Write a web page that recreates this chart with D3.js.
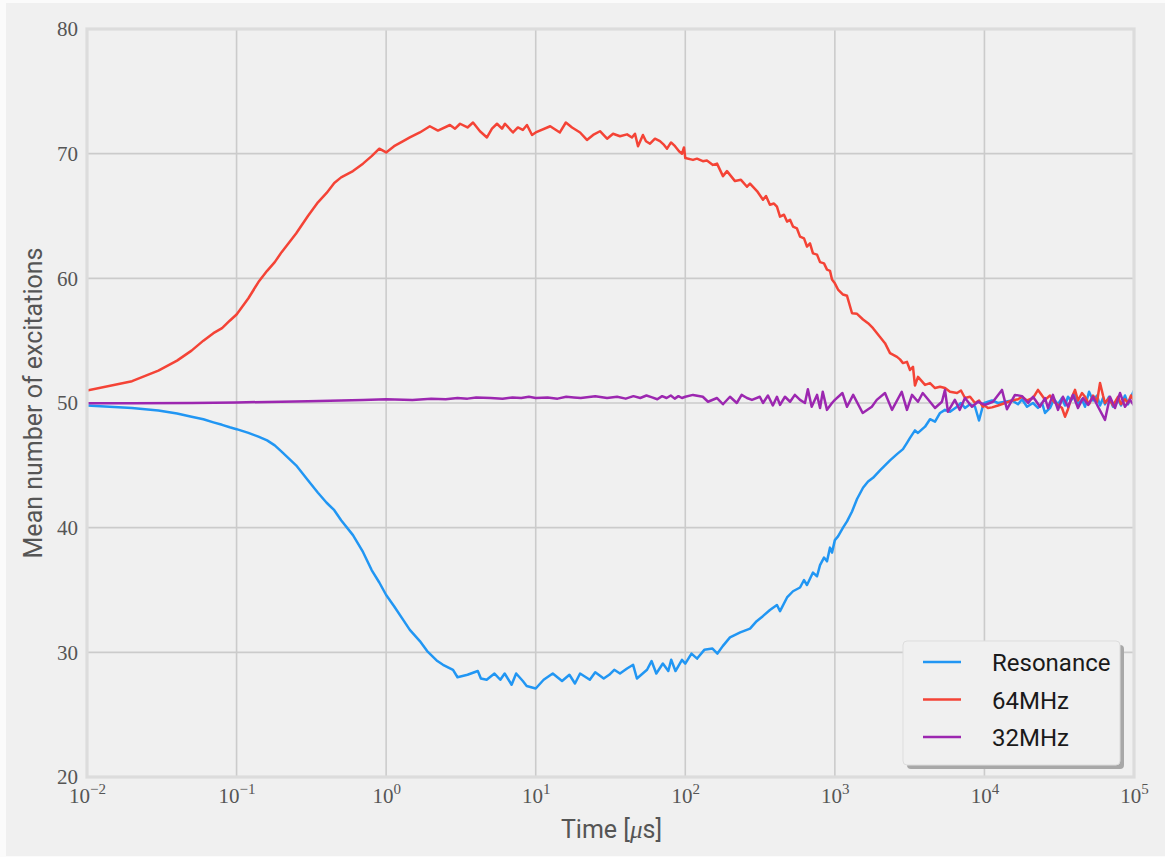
<!DOCTYPE html>
<html>
<head>
<meta charset="utf-8">
<script src="https://cdn.jsdelivr.net/npm/d3@7"></script>
<style>
  html, body { margin: 0; padding: 0; background: #fbfbfb; }
  svg { display: block; }
</style>
</head>
<body>
<svg id="chart" width="1165" height="857"></svg>
<script>
// ---- data: [time in µs, mean number of excitations] ----
const resonance = [
  [0.01,49.8],[0.02,49.6],[0.03,49.4],[0.04,49.15],[0.05,48.9],[0.06,48.7],[0.07,48.45],[0.08,48.25],[0.09,48.05],
  [0.1,47.9],[0.12,47.6],[0.14,47.3],[0.16,47.0],[0.18,46.6],[0.2,46.1],[0.25,45.0],[0.3,43.8],[0.35,42.8],
  [0.4,42.0],[0.45,41.4],[0.5,40.6],[0.6,39.4],[0.7,38.05],[0.8,36.6],[0.9,35.6],
  [1.0,34.6],[1.13,33.7],[1.3,32.6],[1.44,31.8],[1.68,30.9],[1.88,30.1],[2.2,29.3],[2.4,29.0],[2.8,28.6],
  [3.0,28.0],[3.5,28.2],[4.1,28.5],[4.3,27.9],[4.7,27.8],[5.3,28.3],[5.8,27.8],[6.2,28.3],[6.9,27.4],
  [7.4,28.3],[8.2,27.7],[8.7,27.3],[10,27.1],[11.3,27.8],[13,28.3],[15,27.7],[16.8,28.2],[18.3,27.5],
  [19.8,28.3],[23,27.8],[25,28.4],[28.5,27.9],[31,28.2],[33.5,28.6],[36.6,28.3],[40.8,28.7],[44.8,29.0],
  [47.5,27.9],[55.5,28.6],[59.5,29.3],[64,28.3],[70.8,29.1],[77,28.5],[80.5,29.4],[86,28.5],[95,29.4],
  [100,29.1],[110,29.9],[120,29.5],[134,30.2],[152,30.3],[164,29.9],[178,30.5],[199,31.2],[233,31.6],
  [271,31.9],[300,32.5],[330,32.9],[368,33.4],[410,33.8],[430,33.3],[479,34.4],[525,34.9],[585,35.2],
  [622,35.8],[651,35.4],[714,36.4],[760,36.1],[796,37.0],[846,37.6],[886,37.3],[928,38.4],[957,38.0],
  [1000,39.0],[1050,39.3],[1134,40.0],[1206,40.5],[1303,41.3],[1407,42.3],[1543,43.2],[1667,43.7],
  [1800,44.0],[2004,44.6],[2164,45.0],[2338,45.4],[2603,45.9],[2855,46.3],[3035,46.8],[3180,47.2],
  [3432,47.8],[3596,47.6],[4008,48.1],[4326,48.7],[4674,48.5],[5050,49.2],[5448,49.45],[5888,49.3],
  [6560,49.7],[6970,50.0],[7413,49.6],[8012,49.9],[8650,49.7],[9200,48.6],[9780,49.8],[10000,50.0],
  [10570,50.1],[11240,50.2],[12330,50.0],[13740,50.1],[15290,50.2],[16780,49.9],[17840,50.3],[19260,49.7],
  [21130,50.0],[22810,49.6],[24270,50.0],[25420,49.2],[27460,49.6],[29190,50.3],[31040,49.9],[33010,50.4],
  [34570,49.8],[36200,50.5],[37910,50.2],[40320,50.65],[42220,49.9],[44910,50.3],[47060,49.7],[50050,50.9],
  [53220,50.2],[56600,50.6],[59280,49.8],[62080,50.4],[64010,49.9],[68070,50.5],[72390,49.7],[78180,50.3],
  [81850,49.8],[87040,50.6],[91200,49.9],[95500,50.5],[100000,51.0]
];

const mhz64 = [
  [0.01,51.0],[0.02,51.75],[0.03,52.6],[0.04,53.4],[0.05,54.2],[0.06,55.0],[0.07,55.6],[0.08,56.0],[0.09,56.6],
  [0.1,57.1],[0.12,58.4],[0.14,59.7],[0.16,60.6],[0.18,61.3],[0.2,62.1],[0.25,63.6],[0.3,65.0],[0.35,66.1],
  [0.4,66.85],[0.45,67.65],[0.5,68.1],[0.6,68.6],[0.7,69.2],[0.8,69.8],[0.9,70.4],
  [1.0,70.1],[1.13,70.6],[1.3,71.0],[1.44,71.3],[1.68,71.7],[1.96,72.2],[2.22,71.85],[2.67,72.3],[2.89,72.0],
  [3.12,72.4],[3.5,72.1],[3.81,72.5],[4.24,71.8],[4.72,71.3],[5.1,72.0],[5.51,72.4],[5.95,72.0],[6.23,72.4],
  [7.05,71.7],[7.6,72.1],[8.2,71.9],[8.74,72.3],[9.45,71.5],[10,71.7],
  [12.5,72.2],[14.5,71.7],[15.9,72.5],[17.5,72.1],[19.8,71.7],[22.0,71.1],[24.2,71.5],[26.9,71.8],[30.0,71.2],
  [32.9,71.6],[36.6,71.4],[40.8,71.55],[44.0,71.3],[46.1,71.6],[48.3,70.6],[52.1,71.5],[54.6,71.0],[58.1,70.8],
  [62.7,71.2],[67.7,71.0],[72.1,70.7],[75.5,70.4],[80.3,70.9],[85.4,70.6],[90.8,70.2],[95.1,70.0],[98,70.5],
  [100,69.65],[112.6,69.5],[119.7,69.6],[131,69.4],[139.5,69.45],[153,69.1],[163,69.2],[178.6,68.2],[190,68.6],
  [199,68.3],[215,67.8],[235.6,67.9],[258.6,67.35],[270.8,67.6],[301.6,67.0],[330.9,66.3],[346.5,66.6],[368,65.9],
  [391.6,66.0],[410,65.75],[429.8,64.95],[457,65.1],[478.9,64.55],[501.6,64.7],[525,64.15],[558,64.0],[585,63.35],
  [622,63.2],[651,62.55],[682,62.8],[714,62.0],[760,61.9],[796,61.3],[846,61.2],[886,60.7],[928,60.6],[957,59.9],
  [1000,59.6],[1050,59.1],[1134,58.7],[1206,58.6],[1303,57.2],[1407,57.15],[1543,56.7],[1667,56.4],[1800,56.0],
  [2004,55.3],[2164,54.8],[2338,54.0],[2603,53.7],[2726,53.5],[2855,53.2],[3035,53.3],[3180,52.65],[3330,52.9],
  [3432,51.4],[3596,52.1],[4008,51.45],[4326,51.6],[4674,51.2],[5050,51.3],[5448,51.2],[5888,50.9],[6560,50.8],
  [6970,51.0],[7413,50.4],[8012,50.5],[8650,50.0],[9200,50.2],[9780,49.7],[10000,49.8],
  [10570,49.6],[11240,49.65],[12330,49.8],[13740,50.0],[15290,50.2],[16780,50.3],[17840,50.5],[19260,50.2],
  [21130,50.4],[22810,51.05],[24270,50.6],[25420,50.25],[27460,50.6],[29190,50.1],[31040,49.85],[33010,49.6],
  [34570,48.9],[36200,49.5],[37910,50.3],[40320,51.05],[42220,50.2],[44910,50.8],[47060,50.5],[50050,49.9],
  [53220,50.6],[56600,50.1],[59280,51.6],[62080,50.6],[64010,50.0],[68070,50.4],[72390,49.8],[78180,50.5],
  [81850,49.9],[87040,50.3],[91200,50.0],[95500,50.6],[100000,50.2]
];

const mhz32 = [
  [0.01,49.97],[0.02,49.98],[0.05,50.0],[0.1,50.05],[0.2,50.1],[0.3,50.15],[0.5,50.2],[0.7,50.25],
  [1,50.3],[1.5,50.25],[2,50.35],[2.5,50.3],[3,50.4],[3.5,50.35],[4,50.45],[5,50.4],[6,50.35],[7,50.45],
  [8,50.4],[9,50.5],[10,50.4],[12,50.45],[14,50.35],[16,50.5],[18,50.45],[20,50.4],[25,50.55],[30,50.4],
  [35,50.5],[40,50.35],[45,50.55],[50,50.4],[55,50.6],[60,50.45],[65,50.3],[70,50.55],[75,50.4],[80,50.6],
  [85,50.35],[90,50.55],[95,50.4],[100,50.5],
  [112.6,50.65],[131,50.5],[141.9,50.1],[163,50.4],[178.6,49.9],[199,50.5],[221,50.0],[238,50.65],[258.6,50.4],
  [279,50.25],[315,50.5],[331,50.0],[357,50.6],[385,49.8],[410,50.5],[430,49.85],[464,50.5],[502,50.1],
  [540,50.65],[585,50.25],[631,50.0],[660,51.1],[700,49.7],[760,50.65],[796,49.6],[830,50.9],[886,49.45],
  [957,50.0],[1000,50.25],[1124,50.8],[1206,49.7],[1326,50.65],[1535,49.2],[1767,49.7],[1906,50.25],
  [2164,50.8],[2410,49.45],[2800,50.9],[3035,49.45],[3280,50.65],[3596,50.1],[3868,50.8],[4326,50.1],
  [4674,49.6],[5200,50.1],[5448,51.05],[5700,49.3],[6340,50.25],[6840,49.45],[7413,50.4],[8250,49.7],
  [9060,50.1],[10100,49.85],[11400,50.1],[13100,51.05],[14150,49.5],[16000,50.65],[17840,50.55],[19600,50.0],
  [21130,50.5],[23520,49.7],[25420,50.4],[26600,49.6],[28700,50.65],[31040,49.45],[33500,50.5],[36200,49.7],
  [39100,50.65],[42220,49.6],[45600,50.4],[49300,49.85],[53220,50.5],[57500,49.7],[64010,48.65],[69100,50.5],
  [74600,49.6],[80600,50.8],[87040,49.7],[94000,50.25],[100000,49.8]
];

const seriesNames = ["Resonance", "64MHz", "32MHz"];
const seriesColors = ["#2196f3", "#f44336", "#9c27b0"];
const yTicks = [20, 30, 40, 50, 60, 70, 80];
const xTickExponents = [-2, -1, 0, 1, 2, 3, 4, 5];

// ---- layout ----
const svg = d3.select("#chart");
const W = 1165, H = 857;
const plot = { left: 87, right: 1134, top: 29, bottom: 777 };
const sans = "Roboto, 'Noto Sans', sans-serif";
const serif = "'Liberation Serif', serif";

svg.append("rect").attr("x", 6).attr("y", 3).attr("width", W - 6).attr("height", H - 4)
  .attr("fill", "#f0f0f0");

const x = d3.scaleLog().domain([1e-2, 1e5]).range([plot.left, plot.right]);
const y = d3.scaleLinear().domain([20, 80]).range([plot.bottom, plot.top]);

// grid
const grid = svg.append("g");
grid.selectAll("line.gx").data(xTickExponents).join("line")
  .attr("x1", d => x(Math.pow(10, d))).attr("x2", d => x(Math.pow(10, d)))
  .attr("y1", plot.top).attr("y2", plot.bottom)
  .attr("stroke", "#cbcbcb").attr("stroke-width", 1.6);
grid.selectAll("line.gy").data(yTicks).join("line")
  .attr("x1", plot.left).attr("x2", plot.right)
  .attr("y1", d => y(d)).attr("y2", d => y(d))
  .attr("stroke", "#cbcbcb").attr("stroke-width", 1.6);

// series
const line = d3.line().x(d => x(d[0])).y(d => y(d[1]));
const allSeries = [resonance, mhz64, mhz32];
svg.append("clipPath").attr("id", "pc").append("rect")
  .attr("x", plot.left).attr("y", plot.top)
  .attr("width", plot.right - plot.left).attr("height", plot.bottom - plot.top);
svg.append("g").attr("clip-path", "url(#pc)")
  .selectAll("path").data(allSeries).join("path")
  .attr("d", line)
  .attr("fill", "none")
  .attr("stroke", (d, i) => seriesColors[i])
  .attr("stroke-width", 2.5)
  .attr("stroke-linejoin", "round");

// frame
svg.append("rect")
  .attr("x", plot.left).attr("y", plot.top)
  .attr("width", plot.right - plot.left).attr("height", plot.bottom - plot.top)
  .attr("fill", "none").attr("stroke", "#dcdcdc").attr("stroke-width", 3.2);

// y axis
const yAxis = svg.append("g").attr("transform", `translate(${plot.left},0)`)
  .call(d3.axisLeft(y).tickValues(yTicks).tickSize(0).tickPadding(9).tickFormat(d3.format("d")));
yAxis.select(".domain").remove();
yAxis.selectAll("text")
  .attr("font-family", serif)
  .attr("font-size", 21).attr("fill", "#555");

// x axis with 10^n labels
const xAxis = svg.append("g").attr("transform", `translate(0,${plot.bottom})`)
  .call(d3.axisBottom(x).tickValues(xTickExponents.map(e => Math.pow(10, e))).tickSize(0).tickFormat(""));
xAxis.select(".domain").remove();
xAxis.selectAll(".tick").each(function (d) {
  const e = Math.round(Math.log10(d));
  const t = d3.select(this).append("text")
    .attr("y", 26).attr("text-anchor", "middle")
    .attr("font-family", serif).attr("fill", "#555");
  t.append("tspan").attr("font-size", 21).text("10");
  t.append("tspan").attr("font-size", 15).attr("dy", -9).text(e < 0 ? "\u2212" + (-e) : String(e));
});

// axis labels
svg.append("text")
  .attr("x", (plot.left + plot.right) / 2 + 1).attr("y", 838)
  .attr("text-anchor", "middle")
  .attr("font-family", sans).attr("font-size", 25).attr("fill", "#555")
  .call(t => {
    t.append("tspan").text("Time [");
    t.append("tspan").attr("font-family", serif).attr("font-style", "italic").text("\u03bc");
    t.append("tspan").text("s]");
  });

svg.append("text")
  .attr("transform", `translate(42,${(plot.top + plot.bottom) / 2}) rotate(-90)`)
  .attr("text-anchor", "middle")
  .attr("font-family", sans).attr("font-size", 25).attr("fill", "#555")
  .text("Mean number of excitations");

// legend
const legend = svg.append("g").attr("transform", "translate(903,641)");
const lw = 217, lh = 124;
legend.append("rect").attr("x", 4).attr("y", 4).attr("width", lw).attr("height", lh)
  .attr("rx", 4).attr("fill", "#a8a8a8");
legend.append("rect").attr("width", lw).attr("height", lh)
  .attr("rx", 4).attr("fill", "#f0f0f0").attr("stroke", "#dddddd").attr("stroke-width", 1);
const items = legend.selectAll("g.item").data(seriesNames).join("g")
  .attr("transform", (d, i) => `translate(0,${21 + i * 37.5})`);
items.append("line").attr("x1", 20).attr("x2", 58).attr("y1", 0).attr("y2", 0)
  .attr("stroke", (d, i) => seriesColors[i]).attr("stroke-width", 2.5);
items.append("text").attr("x", 89).attr("y", 9)
  .attr("font-family", sans).attr("font-size", 24).attr("fill", "#1a1a1a")
  .text(d => d);
</script>
</body>
</html>
